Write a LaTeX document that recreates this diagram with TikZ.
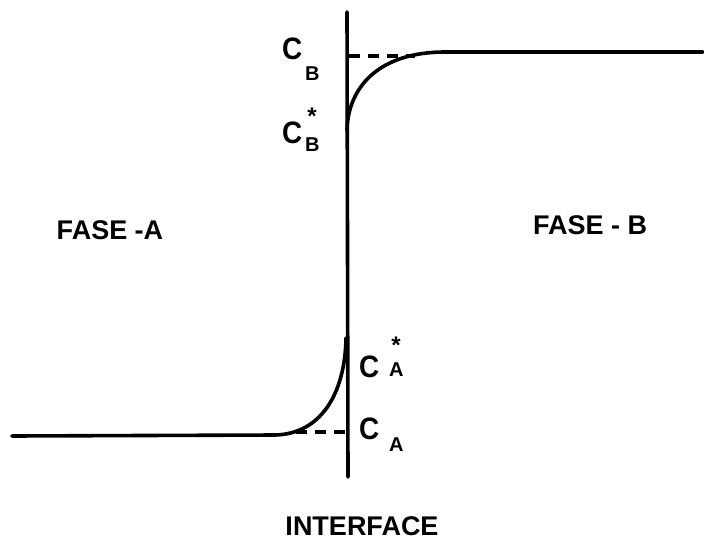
\documentclass[tikz,border=0pt]{standalone}
\usepackage{fontspec}
\setmainfont{Liberation Sans}
\begin{document}
\begin{tikzpicture}[x=1pt,y=-1pt,
  curve/.style={line width=3.6pt,line cap=round},
  dashline/.style={line width=3.2pt,dash pattern=on 11pt off 8pt},
  lbl/.style={font=\fontsize{27}{30}\selectfont\bfseries,inner sep=0pt},
  cl/.style={font=\fontsize{31}{32}\selectfont\bfseries,inner sep=0pt},
  sb/.style={font=\fontsize{20}{22}\selectfont\bfseries,inner sep=0pt},
  st/.style={font=\fontsize{24}{24}\selectfont\bfseries,inner sep=0pt}]
\useasboundingbox[fill=white] (0,0) rectangle (704,541);
% interface line
\coordinate (itop) at (347,12);
\coordinate (ibot) at (348,477);
\draw[curve] (itop) -- (ibot);
% phase B profile
\coordinate (bstar) at (347,130);
\coordinate (bjoin) at (445,52);
\coordinate (bend) at (703,52);
\coordinate (bdash) at (349,56);
\draw[curve] (bstar) .. controls (348,88) and (378,52) .. (bjoin) -- (bend);
\draw[dashline] (bdash) -- (415,56);
% phase A profile
\coordinate (astar) at (346,338);
\coordinate (ajoin) at (275,435);
\coordinate (astart) at (12,436);
\coordinate (adash) at (345,432);
\draw[curve] (astart) -- (ajoin) .. controls (320,434) and (345,395) .. (astar);
\draw[dashline] (adash) -- (288,432);
% labels
\node[cl,anchor=north west] (cb) at (282,38) {\scalebox{0.9}[1]{C}};
\node[sb,anchor=north west] (cbs) at (305,67) {B};
\node[cl,anchor=north west] (cbst) at (282,122) {\scalebox{0.9}[1]{C}};
\node[sb,anchor=north west] (cbsts) at (305,138) {B};
\node[st] (starb) at (312,116) {*};
\node[cl,anchor=north west] (cas) at (359,356) {\scalebox{0.9}[1]{C}};
\node[sb,anchor=north west] (cass) at (389,363) {A};
\node[st] (stara) at (396,345) {*};
\node[cl,anchor=north west] (ca) at (359,418) {\scalebox{0.9}[1]{C}};
\node[sb,anchor=north west] (cass2) at (389,438) {A};
\node[lbl] (fa) at (110,230) {FASE -A};
\node[lbl] (fb) at (590,225) {FASE - B};
\node[lbl] (ifc) at (362,526) {INTERFACE};
\end{tikzpicture}
\end{document}
